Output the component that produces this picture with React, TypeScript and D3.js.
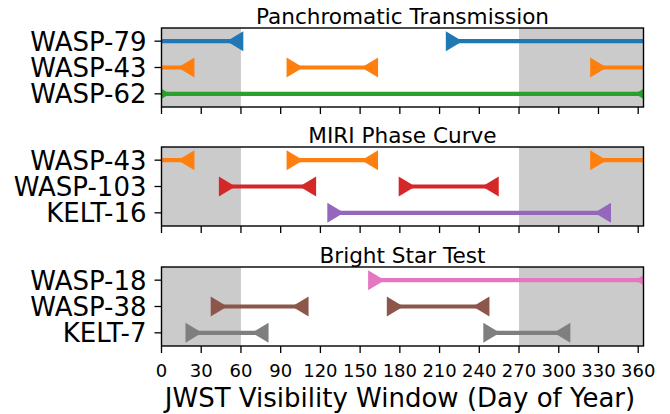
import React from "react";
import * as d3 from "d3";

const panelTitles = ["Panchromatic Transmission", "MIRI Phase Curve", "Bright Star Test"];
const panelTargets = [
  ["WASP-79", "WASP-43", "WASP-62"],
  ["WASP-43", "WASP-103", "KELT-16"],
  ["WASP-18", "WASP-38", "KELT-7"],
];
const panelColors = [
  ["#1f77b4", "#ff7f0e", "#2ca02c"],
  ["#ff7f0e", "#d62728", "#9467bd"],
  ["#e377c2", "#8c564b", "#7f7f7f"],
];
// visibility windows [start, end] in day of year; start > end wraps around the year
const wasp79 = [[221, 55.5]];
const wasp43 = [[330, 18.6], [100.7, 157.3]];
const wasp62 = [[0, 364]];
const wasp103 = [[49.6, 110.5], [185.4, 248.4]];
const kelt16 = [[131.5, 333.2]];
const wasp18 = [[162.3, 364]];
const wasp38 = [[43.4, 104.8], [176.4, 241.4]];
const kelt7 = [[24.4, 74.6], [249.3, 302.5]];
const panelWindows = [
  [wasp79, wasp43, wasp62],
  [wasp43, wasp103, kelt16],
  [wasp18, wasp38, kelt7],
];
const shaded = [[0, 60], [270, 364]];
const xTicks = [0, 30, 60, 90, 120, 150, 180, 210, 240, 270, 300, 330, 360];
const xLabel = "JWST Visibility Window (Day of Year)";

const W = 670, H = 414;
const left = 161.5, right = 643.5;
const panelTops = [28, 147, 267];
const panelH = 79;
const font = "'DejaVu Sans', sans-serif";

export default function App() {
  const x = d3.scaleLinear().domain([0, 364]).range([left, right]);
  const tri = (cx: number, cy: number, dir: 1 | -1) => {
    const hw = 8.3, hh = 10;
    return `M${cx - dir * hw},${cy - hh}L${cx - dir * hw},${cy + hh}L${cx + dir * hw},${cy}Z`;
  };
  return (
    <svg width={W} height={H} style={{ position: "absolute", left: 0, top: 0, background: "#fff" }}>
      <defs>
        {panelTops.map((t, p) => (
          <clipPath id={`clip${p}`} key={p}>
            <rect x={left} y={t} width={right - left} height={panelH} />
          </clipPath>
        ))}
      </defs>
      {panelTops.map((top, p) => {
        const y = d3.scaleLinear().domain([-0.5, 2.5]).range([top, top + panelH]);
        const [d0, d1] = x.domain();
        return (
          <g key={p}>
            <g clipPath={`url(#clip${p})`}>
              {shaded.map(([a, b], i) => (
                <rect key={i} x={x(a)} y={top} width={x(b) - x(a)} height={panelH} fill="#cbcbcb" />
              ))}
              {panelWindows[p].map((wins, r) => {
                const cy = y(r);
                const c = panelColors[p][r];
                return (
                  <g key={r}>
                    {wins.map(([s, e], k) => {
                      const segs = s <= e ? [[s, e]] : [[s, d1 + 5], [d0 - 5, e]];
                      return (
                        <g key={k}>
                          {segs.map(([a, b], j) => (
                            <line key={j} x1={x(a)} x2={x(b)} y1={cy} y2={cy} stroke={c} strokeWidth={4.2} />
                          ))}
                          <path d={tri(x(s), cy, 1)} fill={c} />
                          <path d={tri(x(e), cy, -1)} fill={c} />
                        </g>
                      );
                    })}
                  </g>
                );
              })}
            </g>
            <rect x={left} y={top} width={right - left} height={panelH} fill="none" stroke="#000" strokeWidth={1.4} />
            <text x={(left + right) / 2} y={top - 4.5} textAnchor="middle" fontFamily={font} fontSize={21.6} fill="#000">
              {panelTitles[p]}
            </text>
            {panelTargets[p].map((name, r) => (
              <g key={r}>
                <line x1={left - 7} x2={left} y1={y(r)} y2={y(r)} stroke="#000" strokeWidth={1.3} />
                <text x={left - 15} y={y(r) + 9.5} textAnchor="end" fontFamily={font} fontSize={26} fill="#000">
                  {name}
                </text>
              </g>
            ))}
            {xTicks.map((t) => (
              <line key={t} x1={x(t)} x2={x(t)} y1={top + panelH} y2={top + panelH + 7} stroke="#000" strokeWidth={1.3} />
            ))}
            {p === 2 &&
              xTicks.map((t) => (
                <text key={t} x={x(t)} y={376.5} textAnchor="middle" fontFamily={font} fontSize={18} fill="#000">
                  {t}
                </text>
              ))}
          </g>
        );
      })}
      <text x={400} y={407} textAnchor="middle" fontFamily={font} fontSize={26} fill="#000">
        {xLabel}
      </text>
    </svg>
  );
}
